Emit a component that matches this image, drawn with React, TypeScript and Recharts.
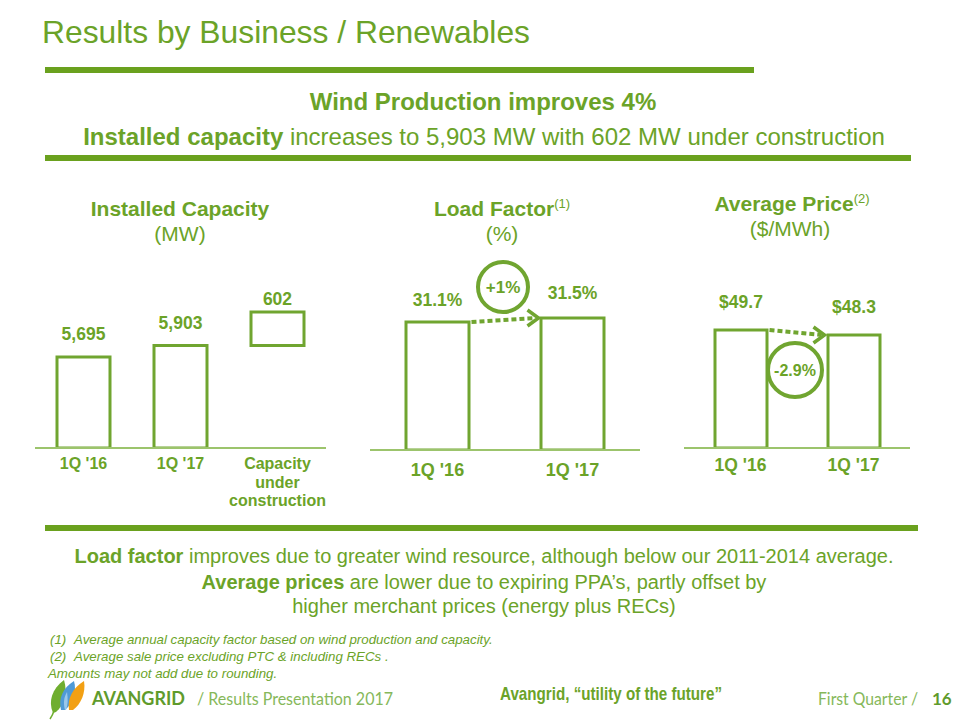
import React from 'react';
import { BarChart, Bar, XAxis, YAxis, LabelList, ReferenceLine } from 'recharts';

// ---------- data ----------
const capCategories = ["1Q '16", "1Q '17", 'Capacity under construction'];
const capValues: (number | [number, number])[] = [5695, 5903, [5903, 6505]];
const capLabels = ['5,695', '5,903', '602'];

const lfCategories = ["1Q '16", "1Q '17"];
const lfValues = [31.1, 31.5];
const lfLabels = ['31.1%', '31.5%'];
const lfChange = '+1%';

const priceCategories = ["1Q '16", "1Q '17"];
const priceValues = [49.7, 48.3];
const priceLabels = ['$49.7', '$48.3'];
const priceChange = '-2.9%';

// ---------- style ----------
const GREEN = '#6ba328';
const RULE = '#6aa11e';
const BAR = '#70a530';
const AXIS = '#9cc46c';
const FONT = "'Liberation Sans', Arial, sans-serif";

const capData = capCategories.map((c, i) => ({ name: c, v: capValues[i] }));
const lfData = lfCategories.map((c, i) => ({ name: c, v: lfValues[i] }));
const priceData = priceCategories.map((c, i) => ({ name: c, v: priceValues[i] }));

const makeTick = (fontSize: number, dy: number, lineH: number) => (props: any) => {
  const { x, y, payload } = props;
  const s = String(payload.value);
  const lines = s.length > 10 ? s.split(' ') : [s];
  return (
    <text x={x} y={y} textAnchor="middle" fill={GREEN} fontWeight="bold" fontSize={fontSize} fontFamily={FONT}>
      {lines.map((w, i) => (
        <tspan key={i} x={x} dy={i === 0 ? dy : lineH}>
          {w}
        </tspan>
      ))}
    </text>
  );
};

const makeLabel = (labels: string[], offsets: number[], fontSize: number) => (props: any) => {
  const { x, y, width, index } = props;
  return (
    <text
      x={Number(x) + Number(width) / 2}
      y={Number(y) - offsets[index]}
      textAnchor="middle"
      fill={GREEN}
      fontWeight="bold"
      fontSize={fontSize}
      fontFamily={FONT}
    >
      {labels[index]}
    </text>
  );
};

const Annotation = (p: any) => {
  const { x1, y1, x2, y2, half, label, cyOffset, fromTop, r, fontSize } = p;
  const sx = x1 + half + 1;
  const ex = x2 - half - 1;
  const cx = (x1 + x2) / 2 - 2;
  const cy = (fromTop ? Math.min(y1, y2) : y1) + cyOffset;
  return (
    <g>
      <line x1={sx} y1={y1} x2={ex - 3} y2={y2} stroke={BAR} strokeWidth={4} strokeDasharray="5 3" />
      <polyline
        points={`${ex - 11},${y2 - 8} ${ex},${y2} ${ex - 11},${y2 + 8}`}
        fill="none"
        stroke={BAR}
        strokeWidth={3.5}
      />
      <circle cx={cx} cy={cy} r={r} fill="#fff" stroke={BAR} strokeWidth={4} />
      <text x={cx} y={cy + fontSize * 0.36} textAnchor="middle" fill={GREEN} fontWeight="bold" fontSize={fontSize} fontFamily={FONT}>
        {label}
      </text>
    </g>
  );
};

const Logo = () => (
  <g>
    <path d="M53 713 C48 701 52 689 64 680 C68 693 64 705 56 712 Z" fill="#6fae2f" />
    <path d="M54 711 C53 714 52 716 50 719" fill="none" stroke="#6fae2f" strokeWidth="1.5" />
    <path d="M61 710 C58 698 63 688 74 681 C77 692 73 703 65 710 Z" fill="#4f9ad6" />
    <path d="M69 710 C67 698 73 688 84 681 C86 693 81 704 73 710 Z" fill="#f2a014" />
    <path d="M65 710 C63 703 64 697 67 692 C68 699 68 705 66 710 Z" fill="#9ac8ea" />
  </g>
);

export default function App() {
  return (
    <div style={{ position: 'absolute', left: 0, top: 0, width: 960, height: 720, background: '#fff', fontFamily: FONT }}>
      <svg width={960} height={720} style={{ position: 'absolute', left: 0, top: 0 }} fontFamily={FONT}>
        <text x={42} y={43} fontSize={32} fill={GREEN} textLength={488} lengthAdjust="spacingAndGlyphs">
          Results by Business / Renewables
        </text>
        <rect x={45} y={67} width={709} height={6} fill={RULE} />
        <text x={483} y={110} textAnchor="middle" fontSize={24} fontWeight="bold" fill={GREEN}>
          Wind Production improves 4%
        </text>
        <text x={484} y={145} textAnchor="middle" fontSize={24} fill={GREEN}>
          <tspan fontWeight="bold">Installed capacity</tspan>
          <tspan> increases to 5,903 MW with 602 MW under construction</tspan>
        </text>
        <rect x={45} y={155} width={866} height={6} fill={RULE} />

        <text x={180} y={216} textAnchor="middle" fontSize={21} fontWeight="bold" fill={GREEN}>
          Installed Capacity
        </text>
        <text x={180} y={241} textAnchor="middle" fontSize={21} fill={GREEN}>
          (MW)
        </text>
        <text x={502} y={216} textAnchor="middle" fontSize={21} fill={GREEN}>
          <tspan fontWeight="bold">Load Factor</tspan>
          <tspan fontSize={13} dy={-8}>(1)</tspan>
        </text>
        <text x={502} y={241} textAnchor="middle" fontSize={21} fill={GREEN}>
          (%)
        </text>
        <text x={792} y={211} textAnchor="middle" fontSize={21} fill={GREEN}>
          <tspan fontWeight="bold">Average Price</tspan>
          <tspan fontSize={13} dy={-8}>(2)</tspan>
        </text>
        <text x={790} y={236} textAnchor="middle" fontSize={21} fill={GREEN}>
          ($/MWh)
        </text>

        <rect x={45} y={525} width={873} height={6} fill={RULE} />
        <text x={484} y={563} textAnchor="middle" fontSize={20} fill={GREEN}>
          <tspan fontWeight="bold">Load factor</tspan>
          <tspan> improves due to greater wind resource, although below our 2011-2014 average.</tspan>
        </text>
        <text x={484} y={589} textAnchor="middle" fontSize={20} fill={GREEN}>
          <tspan fontWeight="bold">Average prices</tspan>
          <tspan> are lower due to expiring PPA’s, partly offset by</tspan>
        </text>
        <text x={484} y={613} textAnchor="middle" fontSize={20} fill={GREEN}>
          higher merchant prices (energy plus RECs)
        </text>

        <g fontSize={13.3} fontStyle="italic" fill={GREEN}>
          <text x={50} y={644}>(1)</text>
          <text x={74} y={644}>Average annual capacity factor based on wind production and capacity.</text>
          <text x={50} y={661}>(2)</text>
          <text x={74} y={661}>Average sale price excluding PTC &amp; including RECs .</text>
          <text x={48} y={678}>Amounts may not add due to rounding.</text>
        </g>

        <Logo />
        <text x={92} y={705} fontSize={19} fontWeight="bold" fill="#5f9b2c" fontFamily="Lato, 'Open Sans', sans-serif" textLength={93} lengthAdjust="spacingAndGlyphs">
          AVANGRID
        </text>
        <text x={197} y={705} fontSize={18} fill="#86b85a" fontFamily="Lato, 'Open Sans', sans-serif" textLength={196} lengthAdjust="spacingAndGlyphs">
          / Results Presentation 2017
        </text>
        <text x={500} y={700} fontSize={18.5} fontWeight="bold" fill={GREEN} textLength={222} lengthAdjust="spacingAndGlyphs">
          Avangrid, “utility of the future”
        </text>
        <text x={818} y={705} fontSize={18} fill="#86b85a" fontFamily="Lato, 'Open Sans', sans-serif" textLength={100} lengthAdjust="spacingAndGlyphs">
          First Quarter /
        </text>
        <text x={932} y={705} fontSize={17} fontWeight="bold" fill="#5f9b2c" fontFamily="Lato, 'Open Sans', sans-serif">
          16
        </text>
      </svg>

      {/* Installed capacity */}
      <div style={{ position: 'absolute', left: 20, top: 260 }}>
        <BarChart width={320} height={260} data={capData} margin={{ top: 30, right: 14, bottom: 12, left: 15 }}>
          <XAxis
            dataKey="name"
            height={60}
            axisLine={{ stroke: AXIS, strokeWidth: 2 }}
            tickLine={false}
            tickSize={0}
            tickMargin={0}
            interval={0}
            tick={makeTick(16, 21, 18.5)}
          />
          <YAxis hide domain={[4058, 6900]} allowDataOverflow type="number" />
          <Bar dataKey="v" barSize={53} fill="#fff" stroke={BAR} strokeWidth={3} isAnimationActive={false}>
            <LabelList dataKey="v" content={makeLabel(capLabels, [17, 16, 7], 17.5)} />
          </Bar>
        </BarChart>
      </div>

      {/* Load factor */}
      <div style={{ position: 'absolute', left: 355, top: 240 }}>
        <BarChart width={300} height={290} data={lfData} margin={{ top: 50, right: 15, bottom: 20, left: 15 }}>
          <XAxis
            dataKey="name"
            height={60}
            axisLine={{ stroke: AXIS, strokeWidth: 2 }}
            tickLine={false}
            tickSize={0}
            tickMargin={0}
            interval={0}
            tick={makeTick(18, 26, 18)}
          />
          <YAxis hide domain={[18.3, 34.3]} allowDataOverflow type="number" />
          <Bar dataKey="v" barSize={63} fill="#fff" stroke={BAR} strokeWidth={3} isAnimationActive={false}>
            <LabelList dataKey="v" content={makeLabel(lfLabels, [16, 19], 17.5)} />
          </Bar>
          <ReferenceLine
            ifOverflow="visible"
            segment={[
              { x: lfCategories[0], y: lfValues[0] },
              { x: lfCategories[1], y: lfValues[1] },
            ]}
            shape={(p: any) => (
              <Annotation {...p} half={33} label={lfChange} cyOffset={-31} fromTop r={25} fontSize={17} />
            )}
          />
        </BarChart>
      </div>

      {/* Average price */}
      <div style={{ position: 'absolute', left: 670, top: 260 }}>
        <BarChart width={260} height={260} data={priceData} margin={{ top: 30, right: 20, bottom: 12, left: 14 }}>
          <XAxis
            dataKey="name"
            height={60}
            axisLine={{ stroke: AXIS, strokeWidth: 2 }}
            tickLine={false}
            tickSize={0}
            tickMargin={0}
            interval={0}
            tick={makeTick(17.5, 23, 18)}
          />
          <YAxis hide domain={[16.66, 60.9]} allowDataOverflow type="number" />
          <Bar dataKey="v" barSize={52} fill="#fff" stroke={BAR} strokeWidth={3} isAnimationActive={false}>
            <LabelList dataKey="v" content={makeLabel(priceLabels, [22, 22], 17.5)} />
          </Bar>
          <ReferenceLine
            ifOverflow="visible"
            segment={[
              { x: priceCategories[0], y: priceValues[0] },
              { x: priceCategories[1], y: priceValues[1] },
            ]}
            shape={(p: any) => (
              <Annotation {...p} half={28} label={priceChange} cyOffset={40} r={27} fontSize={16} />
            )}
          />
        </BarChart>
      </div>
    </div>
  );
}
